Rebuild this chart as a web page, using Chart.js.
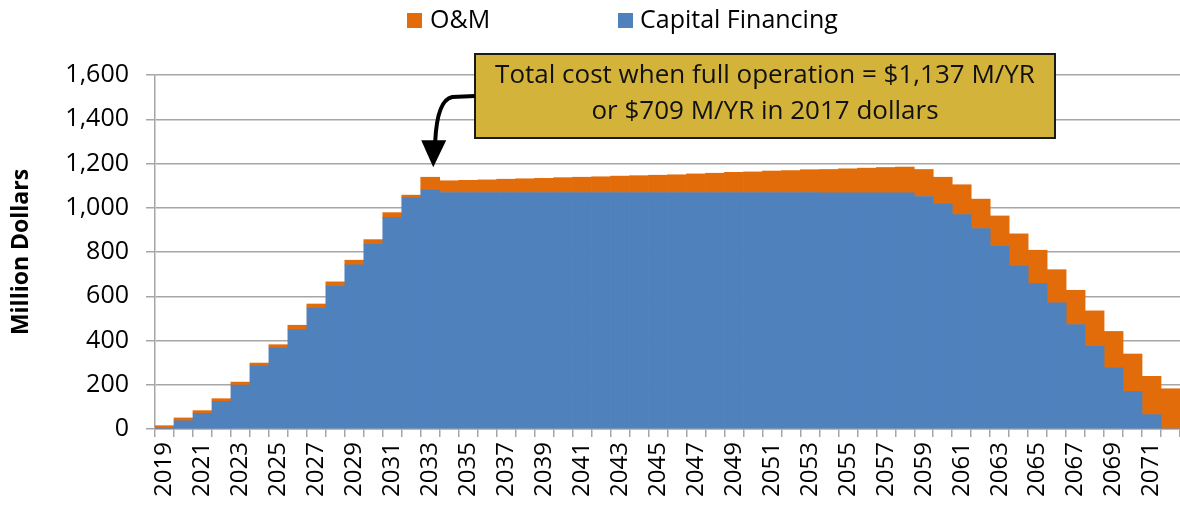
<!DOCTYPE html>
<html>
<head>
<meta charset="utf-8">
<title>Total cost - O&amp;M and Capital Financing</title>
<script src="https://cdn.jsdelivr.net/npm/chart.js@4/dist/chart.umd.min.js"></script>
<style>
    html, body { margin: 0; padding: 0; background: #ffffff; }
    #wrap { width: 1180px; height: 512px; }
</style>
</head>
<body>
<div id="wrap"><canvas id="costChart"></canvas></div>
<script>
// Annual cost by year, million dollars
const years = [
    '2019', '2020', '2021', '2022', '2023', '2024', '2025', '2026', '2027', '2028',
    '2029', '2030', '2031', '2032', '2033', '2034', '2035', '2036', '2037', '2038',
    '2039', '2040', '2041', '2042', '2043', '2044', '2045', '2046', '2047', '2048',
    '2049', '2050', '2051', '2052', '2053', '2054', '2055', '2056', '2057', '2058',
    '2059', '2060', '2061', '2062', '2063', '2064', '2065', '2066', '2067', '2068',
    '2069', '2070', '2071', '2072'
];

const capitalFinancing = [
    3, 37, 71, 125, 199, 286, 366, 449, 546, 645,
    742, 835, 957, 1045, 1081, 1069, 1069, 1069, 1069, 1069,
    1069, 1069, 1069, 1069, 1069, 1069, 1069, 1069, 1069, 1069,
    1069, 1069, 1069, 1069, 1069, 1068, 1068, 1068, 1068, 1068,
    1051, 1018, 969, 906, 826, 739, 657, 570, 472, 374,
    276, 170, 65, 0
];

const oAndM = [
    12, 13, 12, 12, 13, 12, 15, 20, 19, 20,
    21, 21, 21, 12, 57, 53, 55, 57, 60, 62,
    64, 67, 69, 71, 74, 76, 78, 80, 84, 87,
    91, 93, 97, 99, 103, 105, 108, 111, 114, 116,
    122, 120, 135, 133, 137, 143, 151, 150, 155, 160,
    165, 169, 173, 182
];

const yTicks = [0, 200, 400, 600, 800, 1000, 1200, 1400, 1600];

const calloutLines = [
    'Total cost when full operation = $1,137 M/YR',
    'or $709 M/YR in 2017 dollars'
];
const calloutYear = '2033';

const FONT = '"Open Sans", "Noto Sans", sans-serif';
const BLUE = '#4f81bd';
const ORANGE = '#e36c0a';
const GRID = '#a6a6a6';

// legend (O&M first, like the original) + the yellow callout with its arrow
const overlayPlugin = {
    id: 'overlay',
    afterDraw(chart) {
        const ctx = chart.ctx;
        const xs = chart.scales.x;
        const ys = chart.scales.y;
        ctx.save();

        // legend
        const legendItems = [
            { ds: chart.data.datasets[1], box: 407, text: 430 },
            { ds: chart.data.datasets[0], box: 618, text: 640 }
        ];
        ctx.font = '25px ' + FONT;
        ctx.textBaseline = 'middle';
        ctx.textAlign = 'left';
        legendItems.forEach(item => {
            ctx.fillStyle = item.ds.backgroundColor;
            ctx.fillRect(item.box, 13, 15, 15);
            ctx.fillStyle = '#000000';
            ctx.fillText(item.ds.label, item.text, 21);
        });

        // callout box
        const bx = 475, by = 54, bw = 580, bh = 84;
        ctx.fillStyle = '#d4b33b';
        ctx.fillRect(bx, by, bw, bh);
        ctx.lineWidth = 2;
        ctx.strokeStyle = '#1a1a1a';
        ctx.strokeRect(bx, by, bw, bh);
        ctx.fillStyle = '#111111';
        ctx.font = '26px ' + FONT;
        ctx.textAlign = 'center';
        ctx.fillText(calloutLines[0], bx + bw / 2, by + 22);
        ctx.fillText(calloutLines[1], bx + bw / 2, by + 58);

        // arrow pointing at the first full-operation year
        const idx = years.indexOf(calloutYear);
        const tipX = xs.getPixelForValue(idx) + 3;
        const tipY = ys.getPixelForValue(capitalFinancing[idx] + oAndM[idx]) - 10;
        ctx.strokeStyle = '#000000';
        ctx.lineWidth = 4;
        ctx.beginPath();
        ctx.moveTo(bx, by + 42);
        ctx.lineTo(tipX + 19, by + 43);
        ctx.quadraticCurveTo(tipX + 4, by + 46, tipX + 2, tipY - 26);
        ctx.stroke();
        ctx.fillStyle = '#000000';
        ctx.beginPath();
        ctx.moveTo(tipX - 12, tipY - 27);
        ctx.lineTo(tipX + 13, tipY - 27);
        ctx.lineTo(tipX, tipY);
        ctx.closePath();
        ctx.fill();

        ctx.restore();
    }
};

new Chart(document.getElementById('costChart'), {
    type: 'bar',
    data: {
        labels: years,
        datasets: [
            {
                label: 'Capital Financing',
                data: capitalFinancing,
                backgroundColor: BLUE,
                borderWidth: 0,
                categoryPercentage: 1.0,
                barPercentage: 1.0
            },
            {
                label: 'O&M',
                data: oAndM,
                backgroundColor: ORANGE,
                borderWidth: 0,
                categoryPercentage: 1.0,
                barPercentage: 1.0
            }
        ]
    },
    options: {
        responsive: true,
        maintainAspectRatio: false,
        animation: false,
        layout: { padding: { top: 75, left: 0, right: 0, bottom: 0 } },
        plugins: {
            legend: { display: false },
            tooltip: { enabled: false }
        },
        scales: {
            x: {
                stacked: true,
                afterFit: scale => {
                    scale.height = 83;
                    scale.paddingLeft = 0;
                    scale.paddingRight = 0;
                },
                grid: {
                    display: true,
                    drawOnChartArea: false,
                    drawTicks: true,
                    tickLength: 8,
                    offset: true,
                    color: GRID,
                    lineWidth: 1.5
                },
                border: { display: true, color: GRID, width: 1.5 },
                ticks: {
                    autoSkip: false,
                    maxRotation: 90,
                    minRotation: 90,
                    padding: 5,
                    color: '#000000',
                    font: { family: FONT, size: 24 },
                    callback: (value, index) => (index % 2 === 0 ? years[index] : '')
                }
            },
            y: {
                stacked: true,
                min: yTicks[0],
                max: yTicks[yTicks.length - 1],
                afterFit: scale => { scale.width = 155; },
                afterBuildTicks: scale => { scale.ticks = yTicks.map(v => ({ value: v })); },
                grid: {
                    color: GRID,
                    lineWidth: 1.5,
                    drawTicks: true,
                    tickLength: 9
                },
                border: { display: true, color: GRID, width: 1.5 },
                ticks: {
                    padding: 17,
                    color: '#000000',
                    font: { family: FONT, size: 25 },
                    callback: value => Number(value).toLocaleString('en-US')
                },
                title: {
                    display: true,
                    text: 'Million Dollars',
                    color: '#000000',
                    padding: { top: 8, bottom: 4 },
                    font: { family: FONT, size: 23, weight: 'bold' }
                }
            }
        }
    },
    plugins: [overlayPlugin]
});
</script>
</body>
</html>
